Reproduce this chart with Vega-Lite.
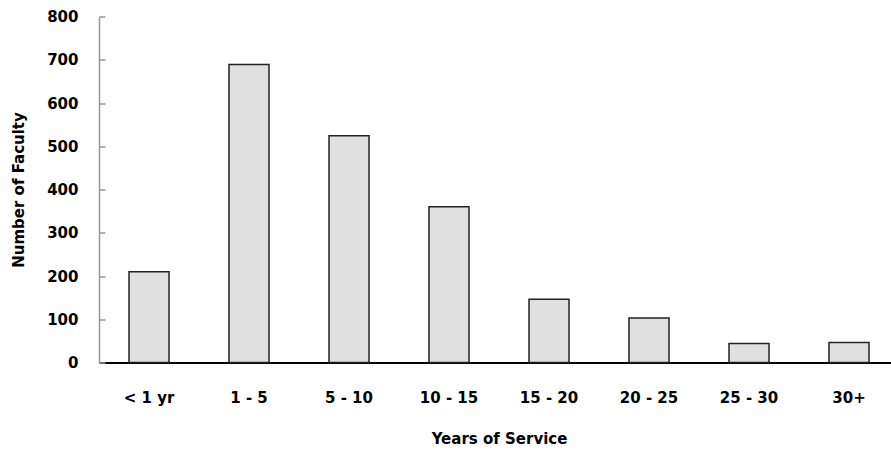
{
  "$schema": "https://vega.github.io/schema/vega-lite/v6.json",
  "autosize": {"type": "none"},
  "padding": {"left": 99, "top": 16.5, "right": 0, "bottom": 88.5},
  "width": 792,
  "height": 346,
  "background": "white",
  "config": {
    "view": {"stroke": null},
    "font": "DejaVu Sans"
  },
  "data": {
    "values": [
      {"years": "< 1 yr", "count": 210},
      {"years": "1 - 5", "count": 689},
      {"years": "5 - 10", "count": 524},
      {"years": "10 - 15", "count": 360},
      {"years": "15 - 20", "count": 146},
      {"years": "20 - 25", "count": 103},
      {"years": "25 - 30", "count": 44},
      {"years": "30+", "count": 46}
    ]
  },
  "mark": {"type": "bar", "fill": "#e0e0e0", "stroke": "#222222", "strokeWidth": 1.5},
  "encoding": {
    "x": {
      "field": "years",
      "type": "nominal",
      "sort": null,
      "scale": {"range": [0, 800], "paddingInner": 0.6, "paddingOuter": 0.3},
      "axis": {
        "title": "Years of Service",
        "labelAngle": 0,
        "ticks": false,
        "domainColor": "#000000",
        "domainWidth": 2,
        "labelFont": "DejaVu Sans",
        "labelFontWeight": "bold",
        "labelFontSize": 15,
        "labelColor": "#000000",
        "labelPadding": 28,
        "titleFont": "DejaVu Sans",
        "titleFontWeight": "bold",
        "titleFontSize": 15,
        "titleColor": "#000000",
        "titlePadding": 26,
        "grid": false
      }
    },
    "y": {
      "field": "count",
      "type": "quantitative",
      "scale": {"domain": [0, 800]},
      "axis": {
        "title": "Number of Faculty",
        "values": [0, 100, 200, 300, 400, 500, 600, 700, 800],
        "grid": false,
        "domainColor": "#999999",
        "domainWidth": 1.5,
        "tickColor": "#999999",
        "tickSize": -6,
        "tickWidth": 1.5,
        "labelFont": "DejaVu Sans",
        "labelFontWeight": "bold",
        "labelFontSize": 15,
        "labelColor": "#000000",
        "labelPadding": 27,
        "titleFont": "DejaVu Sans",
        "titleFontWeight": "bold",
        "titleFontSize": 15,
        "titleColor": "#000000",
        "titlePadding": 20
      }
    }
  }
}
